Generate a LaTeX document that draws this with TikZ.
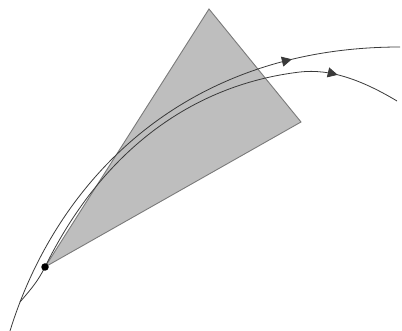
\documentclass[tikz,border=0pt]{standalone}
\usetikzlibrary{arrows.meta,decorations.markings}
\definecolor{trifill}{HTML}{BEBEBE}
\definecolor{triedge}{HTML}{7A7A7A}
\definecolor{curvecol}{HTML}{3A3A3A}
\tikzset{
  wedge/.style={fill=trifill,draw=triedge,line width=0.9pt,line join=miter},
  traj/.style={draw=curvecol,line width=0.8pt},
  arrowat/.style={postaction={decorate,decoration={markings,mark=at position #1 with {\arrow{Triangle[length=10pt,width=10pt]}}}}},
  dotnode/.style={circle,fill=black,inner sep=0pt,minimum size=7.5pt}
}
\begin{document}
\begin{tikzpicture}[x=1pt,y=-1pt]
\useasboundingbox (0,0) rectangle (402,331);
\coordinate (P) at (45,267);
\coordinate (T) at (209,9);
\coordinate (R) at (301,122);
\coordinate (A0) at (10,331);
\coordinate (A1) at (400,47);
\coordinate (B0) at (20,302);
\coordinate (Bm) at (300,72);
\coordinate (B1) at (397,101);
\draw[wedge] (P) -- (T) -- (R) -- cycle;
\draw[traj,arrowat=0.79] (A0) .. controls (55,185) and (180,47) .. (A1);
\draw[traj,arrowat=0.865] (B0) .. controls (32,288) and (38,281) .. (P)
  .. controls (101,153) and (190,85) .. (Bm)
  .. controls (330,68.5) and (362,80) .. (B1);
\node[dotnode] (O) at (P) {};
\end{tikzpicture}
\end{document}
